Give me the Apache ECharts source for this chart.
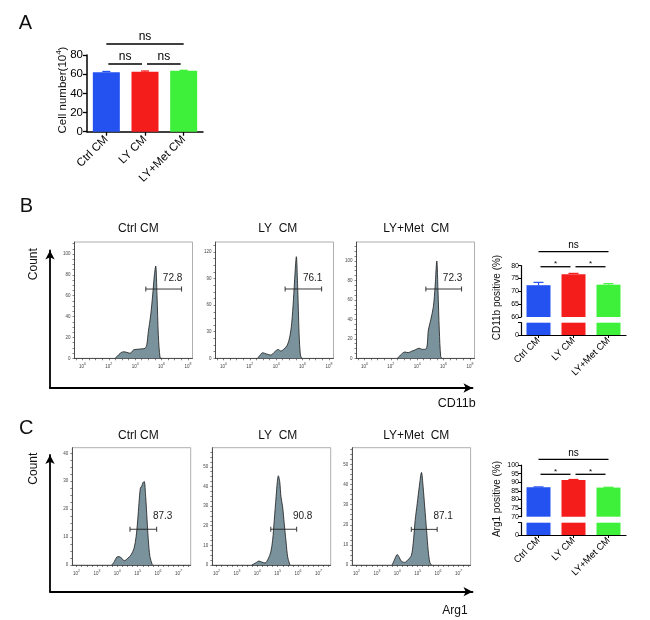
<!DOCTYPE html>
<html><head><meta charset="utf-8">
<script src="https://cdn.jsdelivr.net/npm/echarts@6/dist/echarts.min.js"></script>
<style>html,body{margin:0;padding:0;background:#fff}#c{width:650px;height:620px}</style>
</head><body><div id="c"></div>
<script>
// ---------------- DATA ----------------
const groups = ['Ctrl CM', 'LY CM', 'LY+Met CM'];
const histTitles = ['Ctrl CM', 'LY  CM', 'LY+Met  CM'];

// Panel A
const cellNumber = [62, 62.5, 63.5];
const cellNumberErr = [0.8, 0.8, 0.5];
const cellNumberTicks = [0, 20, 40, 60, 80];
const sigA = [[0, 2, 91.5], [0, 1, 70.6], [1, 2, 70.6]];
const sigALabels = ['ns', 'ns', 'ns'];

// Panel B histograms (x = log10 fluorescence, y = count)
const cd11bCtrl = [[2.49,0],[2.87,4.8],[3.12,6.3],[3.37,5.7],[3.62,4.8],[3.87,8],[4.13,8.6],[4.45,9],[4.75,9.6],[4.88,12.8],[5.0,25.5],[5.18,41.5],[5.33,60.7],[5.46,80],[5.56,88.5],[5.66,60],[5.76,22],[5.89,0.5],[6.0,0]];
const cd11bLY = [[2.59,0],[2.79,3.7],[2.97,6.3],[3.27,4.9],[3.6,3.7],[3.9,7.5],[4.15,10],[4.35,8.3],[4.6,10.5],[4.85,15],[5.03,24],[5.18,39.5],[5.31,66],[5.43,96],[5.53,114.8],[5.64,77],[5.74,28],[5.84,3.7],[5.94,0]];
const cd11bMet = [[2.51,0],[2.82,4.4],[3.07,6.5],[3.32,5.8],[3.57,7.2],[3.82,8.5],[4.15,10.3],[4.4,9.2],[4.7,9.9],[4.85,29],[5.03,39.4],[5.23,53],[5.36,73.6],[5.49,100],[5.58,70],[5.68,29],[5.79,1.6],[5.89,0]];
const cd11bGates = [[4.81, 7.52, 66.4], [4.68, 7.45, 78.3], [4.66, 7.37, 71.2]];
const cd11bGateLabels = ['72.8', '76.1', '72.3'];
const cd11bYTicks = [[0,20,40,60,80,100],[0,30,60,90,120],[0,20,40,60,80,100]];
const cd11bYMax = [111.5, 131.4, 119.5];
const cd11bXTicks = [0, 2, 4, 6, 8];
const cd11bXRange = [-0.6, 8.35];

// Panel B bar chart
const cd11bPositive = [72.4, 76.7, 72.6];
const cd11bErr = [1.1, 0.3, 0.4];
const cd11bUpperTicks = [60, 80, 5];
const sigB = [[0, 2, 85.5], [0, 1, 79.6], [1, 2, 79.6]];
const sigBLabels = ['ns', '*', '*'];

// Panel C histograms
const arg1Ctrl = [[3.73,0],[3.85,1.2],[3.97,2.8],[4.08,3.0],[4.22,2.4],[4.34,1.5],[4.51,2.4],[4.67,3.6],[4.82,6],[4.92,10.1],[5.0,16.1],[5.06,22],[5.13,27.5],[5.2,28.3],[5.26,29.5],[5.32,29.9],[5.39,24.5],[5.46,16.1],[5.52,9],[5.6,3],[5.72,0]];
const arg1LY = [[3.73,0],[3.94,1.2],[4.08,2.0],[4.22,1.5],[4.38,1.0],[4.54,3.3],[4.66,6.6],[4.75,12.6],[4.83,22.8],[4.92,34.7],[4.98,42.3],[5.03,45.4],[5.1,42.3],[5.16,34.7],[5.24,29.6],[5.32,21.1],[5.41,11.7],[5.49,4.1],[5.6,0]];
const arg1Met = [[3.75,0],[3.88,3],[4.0,5.2],[4.1,3.8],[4.21,1.8],[4.36,1.3],[4.52,2.5],[4.69,4.7],[4.78,10.5],[4.88,22.2],[4.98,30.5],[5.08,38.8],[5.19,46],[5.27,38.8],[5.35,28.8],[5.44,17.2],[5.52,7.2],[5.6,1.3],[5.68,0]];
const arg1Gates = [[4.62, 5.93, 12.8], [4.66, 5.93, 18.2], [4.69, 5.96, 17.7]];
const arg1GateLabels = ['87.3', '90.8', '87.1'];
const arg1YTicks = [[0,10,20,30,40],[0,10,20,30,40,50],[0,10,20,30,40,50]];
const arg1YMax = [42, 59.7, 58.3];
const arg1XTicks = [2, 3, 4, 5, 6, 7];
const arg1XRange = [1.79, 7.6];

// Panel C bar chart
const arg1Positive = [87.1, 91.3, 86.9];
const arg1Err = [0.2, 0.3, 0.2];
const arg1UpperTicks = [70, 100, 5];
const sigC = [[0, 2, 103.3], [0, 1, 94.6], [1, 2, 94.6]];
const sigCLabels = ['ns', '*', '*'];

// ---------------- STYLE / LAYOUT ----------------
const FONT = '"Liberation Sans", Arial, Helvetica, sans-serif';
const barColors = ['#2352f0', '#f51c1c', '#3ff03a'];
const histFill = '#7a929c';
const L = {
  A: {left: 87, top: 55, width: 116, height: 76.7},
  bHist: {lefts: [74.5, 215.5, 356.5], top: 242, width: 118, height: 116.3, labelDx: -9, labelDy: 11},
  cHist: {lefts: [72.3, 212.3, 352.2], top: 447.7, width: 118.4, height: 117.3, labelDx: 6, labelDy: 13},
  bBar: {left: 521, width: 105, upTop: 265.7, upH: 51.3, loTop: 322.7, loH: 12.3},
  cBar: {left: 521, width: 105, upTop: 465, upH: 51.7, loTop: 522.7, loH: 12.3},
  bBig: {left: 50, top: 250.5, width: 422.5, height: 137.5},
  cBig: {left: 50, top: 455, width: 422.5, height: 136.7}
};

// ---------------- BUILD ----------------
const grid = [], xAxis = [], yAxis = [], series = [];
function addGrid(g) { grid.push(Object.assign({outerBoundsMode: 'none', containLabel: false}, g)); return grid.length - 1; }

function errorSeries(gi, vals, errs, capHalf, lw) {
  return {type: 'custom', xAxisIndex: gi, yAxisIndex: gi, z: 4, clip: false, silent: true,
    data: vals.map((v, i) => [i, v, errs[i]]), encode: {x: 0, y: 1},
    renderItem(params, api) {
      const i = api.value(0), v = api.value(1), e = api.value(2);
      const a = api.coord([i, v]), b = api.coord([i, v + e]);
      const st = {stroke: barColors[params.dataIndex], lineWidth: lw};
      return {type: 'group', children: [
        {type: 'line', shape: {x1: a[0], y1: a[1], x2: b[0], y2: b[1]}, style: st},
        {type: 'line', shape: {x1: b[0] - capHalf, y1: b[1], x2: b[0] + capHalf, y2: b[1]}, style: st}
      ]};
    }};
}

function sigSeries(gi, items, labels, fontSize, starSize, lw) {
  return {type: 'custom', xAxisIndex: gi, yAxisIndex: gi, z: 4, clip: false, silent: true,
    data: items, encode: {x: 0, y: 2},
    renderItem(params, api) {
      const i1 = api.value(0), i2 = api.value(1), y = api.value(2);
      const p1 = api.coord([i1, y]), p2 = api.coord([i2, y]);
      const adj = (i2 - i1 === 1);
      const x1 = p1[0] + (adj ? 2 : 0), x2 = p2[0] - (adj ? 3 : 0);
      const lab = labels[params.dataIndex];
      const star = lab === '*';
      return {type: 'group', children: [
        {type: 'line', shape: {x1: x1, y1: p1[1], x2: x2, y2: p1[1]}, style: {stroke: '#000', lineWidth: lw}},
        {type: 'text', x: (x1 + x2) / 2, y: p1[1] + (star ? 1 : -1),
          style: {text: lab, fontSize: star ? starSize : fontSize, fontFamily: FONT, fill: '#000', align: 'center', verticalAlign: 'bottom'}}
      ]};
    }};
}

function gateSeries(gi, gate, label, dx, dy) {
  return {type: 'custom', xAxisIndex: gi, yAxisIndex: gi, z: 5, clip: false, silent: true,
    data: [gate], encode: {x: 0, y: 2},
    renderItem(params, api) {
      const p1 = api.coord([api.value(0), api.value(2)]);
      const p2 = api.coord([api.value(1), api.value(2)]);
      const st = {stroke: '#222', lineWidth: 0.9};
      const c = 2.5;
      return {type: 'group', children: [
        {type: 'line', shape: {x1: p1[0], y1: p1[1], x2: p2[0], y2: p2[1]}, style: st},
        {type: 'line', shape: {x1: p1[0], y1: p1[1] - c, x2: p1[0], y2: p1[1] + c}, style: st},
        {type: 'line', shape: {x1: p2[0], y1: p2[1] - c, x2: p2[0], y2: p2[1] + c}, style: st},
        {type: 'text', x: p2[0] + dx, y: p1[1] - dy,
          style: {text: label, fontSize: 10, fontFamily: FONT, fill: '#222', align: 'center', verticalAlign: 'middle'}}
      ]};
    }};
}

function stepTicks(lo, hi, step) { const t = []; for (let v = Math.ceil(lo / step) * step; v <= hi + 1e-9; v += step) t.push(+v.toFixed(4)); return t; }

// Panel A
(function () {
  const gi = addGrid(L.A);
  xAxis.push({gridIndex: gi, type: 'category', data: groups,
    axisLine: {show: true, lineStyle: {color: '#000', width: 1.5}},
    axisTick: {show: true, alignWithLabel: true, length: 4, lineStyle: {color: '#000', width: 1.3}},
    axisLabel: {rotate: 45, fontSize: 11.5, color: '#000', fontFamily: FONT, margin: 6, interval: 0}});
  yAxis.push({gridIndex: gi, type: 'value', min: cellNumberTicks[0], max: cellNumberTicks[cellNumberTicks.length - 1], interval: 20,
    axisLine: {show: true, lineStyle: {color: '#000', width: 1.5}},
    axisTick: {show: true, length: 4, lineStyle: {color: '#000', width: 1.3}},
    axisLabel: {fontSize: 11.5, color: '#000', fontFamily: FONT, margin: 4}, splitLine: {show: false}});
  series.push({type: 'bar', xAxisIndex: gi, yAxisIndex: gi, barWidth: 27, silent: true,
    data: cellNumber.map((v, i) => ({value: v, itemStyle: {color: barColors[i]}}))});
  series.push(errorSeries(gi, cellNumber, cellNumberErr, 4, 1.3));
  series.push(sigSeries(gi, sigA, sigALabels, 12, 10, 1.4));
})();

// Histograms
function addHist(lay, i, data, xr, xTicks, xMinor, yTicks, yMax, gate, gateLabel, title) {
  const gi = addGrid({left: lay.lefts[i], top: lay.top, width: lay.width, height: lay.height, show: true, borderColor: '#9a9a9a', borderWidth: 0.8});
  const step = yTicks[1] - yTicks[0];
  xAxis.push({gridIndex: gi, type: 'value', min: xr[0], max: xr[1], splitLine: {show: false},
    axisLine: {show: true, onZero: false, lineStyle: {color: '#333', width: 0.8}},
    axisTick: {show: true, customValues: stepTicks(xr[0], xr[1], xMinor), length: 2, lineStyle: {color: '#333', width: 0.6}},
    axisLabel: {show: true, customValues: xTicks, margin: 4, color: '#444',
      formatter: v => '{b|10}{s|' + v + '}',
      rich: {b: {fontSize: 4.5, fontFamily: FONT, color: '#444', lineHeight: 7, verticalAlign: 'bottom'},
             s: {fontSize: 3.5, fontFamily: FONT, color: '#444', verticalAlign: 'top'}}}});
  yAxis.push({gridIndex: gi, type: 'value', min: 0, max: yMax, splitLine: {show: false},
    axisLine: {show: true, onZero: false, lineStyle: {color: '#333', width: 0.8}},
    axisTick: {show: true, customValues: stepTicks(0, yMax, step / 4), length: 2, lineStyle: {color: '#333', width: 0.6}},
    axisLabel: {show: true, customValues: yTicks, fontSize: 4.5, fontFamily: FONT, color: '#444', margin: 4}});
  series.push({type: 'line', xAxisIndex: gi, yAxisIndex: gi, data: data, smooth: 0.3, symbol: 'none', silent: true,
    lineStyle: {color: '#1a1a1a', width: 0.8}, areaStyle: {color: histFill, opacity: 1}, z: 2});
  series.push(gateSeries(gi, gate, gateLabel, lay.labelDx, lay.labelDy));
}
const bHists = [cd11bCtrl, cd11bLY, cd11bMet];
bHists.forEach((d, i) => addHist(L.bHist, i, d, cd11bXRange, cd11bXTicks, 0.5, cd11bYTicks[i], cd11bYMax[i], cd11bGates[i], cd11bGateLabels[i]));
const cHists = [arg1Ctrl, arg1LY, arg1Met];
cHists.forEach((d, i) => addHist(L.cHist, i, d, arg1XRange, arg1XTicks, 0.25, arg1YTicks[i], arg1YMax[i], arg1Gates[i], arg1GateLabels[i]));

// Broken-axis bar charts
function addBroken(lay, vals, errs, upTicks, sig, sigLabels) {
  const up = addGrid({left: lay.left, top: lay.upTop, width: lay.width, height: lay.upH});
  const lo = addGrid({left: lay.left, top: lay.loTop, width: lay.width, height: lay.loH});
  xAxis.push({gridIndex: up, type: 'category', data: groups, show: false});
  yAxis.push({gridIndex: up, type: 'value', min: upTicks[0], max: upTicks[1], interval: upTicks[2], splitLine: {show: false},
    axisLine: {show: true, lineStyle: {color: '#000', width: 1.2}},
    axisTick: {show: true, length: 3, lineStyle: {color: '#000', width: 1}},
    axisLabel: {fontSize: 7, fontFamily: FONT, color: '#000', margin: 2}});
  xAxis.push({gridIndex: lo, type: 'category', data: groups,
    axisLine: {show: true, lineStyle: {color: '#000', width: 1.2}},
    axisTick: {show: true, alignWithLabel: true, length: 3, lineStyle: {color: '#000', width: 1}},
    axisLabel: {rotate: 45, fontSize: 9.5, fontFamily: FONT, color: '#000', margin: 4, interval: 0}});
  yAxis.push({gridIndex: lo, type: 'value', min: 0, max: 5, splitLine: {show: false},
    axisLine: {show: true, lineStyle: {color: '#000', width: 1.2}},
    axisTick: {show: true, customValues: [0, 5], length: 3, lineStyle: {color: '#000', width: 1}},
    axisLabel: {customValues: [0], fontSize: 7, fontFamily: FONT, color: '#000', margin: 2}});
  [up, lo].forEach(gi => series.push({type: 'bar', xAxisIndex: gi, yAxisIndex: gi, barWidth: 24, clip: true, silent: true,
    data: vals.map((v, i) => ({value: v, itemStyle: {color: barColors[i]}}))}));
  series.push(errorSeries(up, vals, errs, 5, 1.2));
  series.push(sigSeries(up, sig, sigLabels, 10, 8, 1.3));
}
addBroken(L.bBar, cd11bPositive, cd11bErr, cd11bUpperTicks, sigB, sigBLabels);
addBroken(L.cBar, arg1Positive, arg1Err, arg1UpperTicks, sigC, sigCLabels);

// Big arrow axes (Count / marker)
[L.bBig, L.cBig].forEach(lay => {
  const gi = addGrid(lay);
  const ax = {gridIndex: gi, type: 'value', min: 0, max: 1, splitLine: {show: false}, axisTick: {show: false}, axisLabel: {show: false},
    axisLine: {show: true, onZero: false, symbol: ['none', 'arrow'], symbolSize: [7, 9], lineStyle: {color: '#000', width: 1.8}}};
  xAxis.push(Object.assign({}, ax));
  yAxis.push(Object.assign({}, ax));
});

// Text
function txt(text, x, y, size, rot, rich) {
  return {type: 'text', x: x, y: y, rotation: rot || 0, silent: true,
    style: {text: text, fontSize: size, fontFamily: FONT, fill: '#111', align: 'center', verticalAlign: 'middle', rich: rich}};
}
const graphic = [
  txt('A', 25.5, 23, 20), txt('B', 26.5, 206, 20), txt('C', 26.3, 428.7, 20),
  txt('{a|Cell number(10}{s|4}{a|)}', 62, 90, 11.5, Math.PI / 2,
      {a: {fontSize: 11.5, fontFamily: FONT, fill: '#111', lineHeight: 14, verticalAlign: 'bottom'}, s: {fontSize: 8, fontFamily: FONT, fill: '#111', verticalAlign: 'top'}}),
  txt('Count', 33.8, 264.2, 12, Math.PI / 2),
  txt('Count', 33.8, 468.7, 12, Math.PI / 2),
  txt('CD11b', 456.7, 403.3, 12.5),
  txt('Arg1', 455, 610.5, 12),
  txt('CD11b positive (%)', 497, 297.5, 10, Math.PI / 2),
  txt('Arg1 positive (%)', 497, 499, 10, Math.PI / 2)
];
const bTitleX = [138.3, 277.8, 416.3];
histTitles.forEach((t, i) => { graphic.push(txt(t, bTitleX[i], 228.8, 12)); graphic.push(txt(t, bTitleX[i], 435.2, 12)); });

const chart = echarts.init(document.getElementById('c'), null, {renderer: 'canvas'});
chart.setOption({animation: false, backgroundColor: '#fff', textStyle: {fontFamily: FONT},
  grid: grid, xAxis: xAxis, yAxis: yAxis, series: series, graphic: graphic});
</script></body></html>
